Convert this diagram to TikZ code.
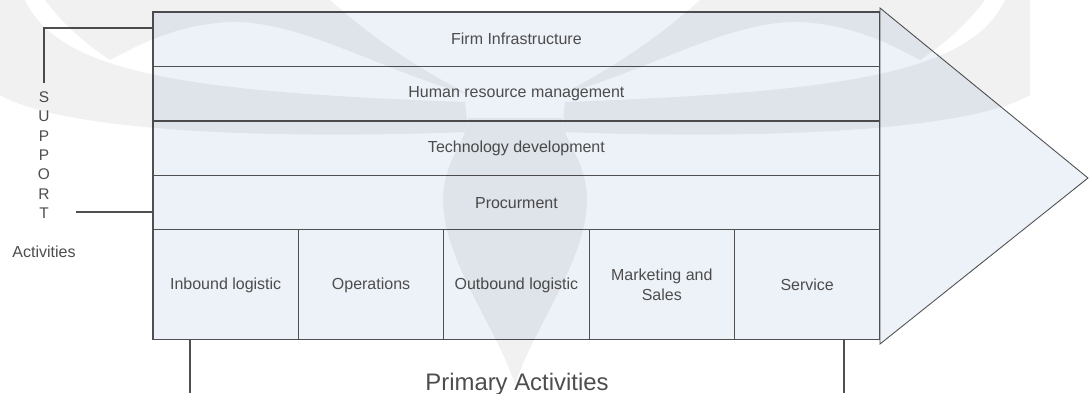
\documentclass[tikz,border=0pt]{standalone}
\usepackage{fontspec}
\setmainfont{Liberation Sans}
\usetikzlibrary{positioning}

\definecolor{cellfill}{HTML}{EDF1F8}
\definecolor{edge}{HTML}{505050}
\definecolor{label}{HTML}{4D4D4D}

\begin{document}
\begin{tikzpicture}[
    x=0.02cm, y=-0.02cm,
    node distance=0pt,
    row/.style={draw=edge, fill=cellfill, line width=0.6pt, outer sep=0pt, inner sep=0pt, minimum width=14.54cm, minimum height=1.09cm, text=label, font=\fontsize{9.1}{11.4}\selectfont},
    cell/.style={row, minimum width=2.908cm, minimum height=2.2cm, align=center},
    side/.style={text=label, inner sep=0pt, font=\fontsize{8.8}{10}\selectfont},
    link/.style={draw=edge, line width=0.6pt}
]
    \useasboundingbox (0,0) rectangle (1089,393);

    % arrow head behind the activity blocks
    \coordinate (headtop) at (880,8);
    \coordinate (tip) at (1088,178);
    \coordinate (headbot) at (880,344);
    \draw[link, line width=0.5pt, fill=cellfill] (headtop) -- (tip) -- (headbot) -- cycle;

    % support activities
    \node[row, anchor=north west] (firm) at (153,12) {Firm Infrastructure};
    \node[row, below=of firm] (hrm) {Human resource management};
    \node[row, below=of hrm] (tech) {Technology development};
    \node[row, below=of tech] (proc) {Procurment};

    % primary activities
    \node[cell, anchor=north west] (inb) at (proc.south west) {Inbound logistic};
    \node[cell, right=of inb] (ops) {Operations};
    \node[cell, right=of ops] (outb) {Outbound logistic};
    \node[cell, right=of outb] (mkt) {Marketing and\\Sales};
    \node[cell, right=of mkt] (svc) {Service};

    % SUPPORT label on the left
    \foreach \ch [count=\i] in {S,U,P,P,O,R,T}
        \node[side] (sup\i) at (44,78+19.3*\i) {\ch};
    \node[side, font=\fontsize{9.1}{11}\selectfont] (act) at (44,252) {Activities};

    \coordinate (suptop) at (44,28);
    \coordinate (supend) at (44,83);
    \coordinate (suplow) at (76,212);
    \draw[link] (supend) -- (suptop) -- (suptop -| firm.west);
    \draw[link] (suplow) -- (suplow -| proc.west);

    % Primary Activities label below
    \coordinate (leftfoot) at (190,393);
    \coordinate (rightfoot) at (844,393);
    \draw[link] (leftfoot |- inb.south) -- (leftfoot);
    \draw[link] (rightfoot |- svc.south) -- (rightfoot);
    \node[side, anchor=base, font=\fontsize{13.6}{16}\selectfont] (prim) at (517,390) {Primary Activities};

    % faint logo in the background
    \begin{scope}[transparency group, opacity=0.055]
        \fill[black] (515,385) .. controls (498,330) and (443,260) .. (443,200)
            .. controls (443,160) and (468,140) .. (468,118) -- (562,118)
            .. controls (562,140) and (587,160) .. (587,200)
            .. controls (587,260) and (532,330) .. (515,385) -- cycle;
        \foreach \side in {1,-1} {
            \begin{scope}[shift={(515,0)}, xscale=\side]
                \fill[black] (-515,0) -- (-490,0) .. controls (-455,75) and (-320,92) .. (-50,102)
                    -- (-47,132) .. controls (-260,140) and (-455,130) .. (-515,95) -- cycle;
                \fill[black] (-470,0) -- (-185,0) .. controls (-135,45) and (-85,75) .. (-45,95)
                    .. controls (-135,70) and (-215,20) .. (-285,22)
                    .. controls (-345,25) and (-385,50) .. (-405,60)
                    .. controls (-435,40) and (-455,20) .. (-470,0) -- cycle;
            \end{scope}
        }
    \end{scope}
\end{tikzpicture}
\end{document}
